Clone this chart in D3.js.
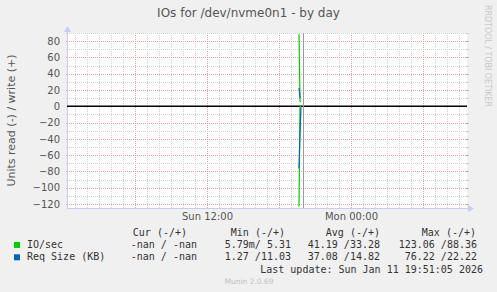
<!DOCTYPE html>
<html lang="en">
<head>
<meta charset="UTF-8"/>
<title>IOs for /dev/nvme0n1 - by day</title>
<script src="https://d3js.org/d3.v7.min.js"></script>
<style>
  body { margin: 0; background: #f0f0f0; }
  svg { display: block; font-family: "DejaVu Sans", sans-serif; }
  .mono { font-family: "DejaVu Sans Mono", monospace; font-size: 10px; fill: #333; white-space: pre; }
  .tick text { font-family: "DejaVu Sans", sans-serif; font-size: 10px; fill: #555; }
</style>
</head>
<body>
<svg id="chart" width="497" height="292"></svg>
<script>
// time range of the day graph (400 px at 5 min per px)
const timeStart = new Date(2026, 0, 11, 0, 20);
const timeEnd = new Date(2026, 0, 12, 9, 40);
const nowRule = "2026-01-11T20:00";

// samples (5 min steps)
const times = ["2026-01-11T19:40", "2026-01-11T19:45", "2026-01-11T19:50"];
const ioRead = [123.06, 0.51, 0.00579];
const ioWrite = [88.36, 6.17, 5.31];
const reqRead = [76.22, 33.75, 1.27];
const reqWrite = [22.22, 11.21, 11.03];

// axis
const yDomain = [-125, 90];
const yLabelTicks = [-120, -100, -80, -60, -40, -20, 0, 20, 40, 60, 80];

// legend
const legendNames = ["IO/sec", "Req Size (KB)"];
const legendColors = ["#00cc00", "#0066b3"];
const curVals = [[NaN, NaN], [NaN, NaN]];
const minVals = [[0.00579, 5.31], [1.27, 11.03]];
const avgVals = [[41.19, 33.28], [37.08, 14.82]];
const maxVals = [[123.06, 88.36], [76.22, 22.22]];
const lastUpdate = "Last update: Sun Jan 11 19:51:05 2026";

const parse = d3.timeParse("%Y-%m-%dT%H:%M");
const svg = d3.select("#chart");
const L = 67, R = 467, T = 33, B = 208;

const x = d3.scaleTime().domain([timeStart, timeEnd]).range([L, R]);
const y = d3.scaleLinear().domain(yDomain).range([B, T]);

svg.append("rect").attr("width", 497).attr("height", 292).attr("fill", "#f0f0f0");
svg.append("rect").attr("x", L).attr("y", T).attr("width", R - L).attr("height", B - T).attr("fill", "#fff");

// grid
const grid = svg.append("g").attr("shape-rendering", "crispEdges");
const minorCol = "#d2d2d2", majorCol = "#eaa0a0";
const hours = d3.timeHour.range(timeStart, timeEnd);
hours.forEach(h => {
  const major = h.getHours() % 6 === 0;
  grid.append("line")
    .attr("x1", Math.round(x(h)) + 0.5).attr("x2", Math.round(x(h)) + 0.5)
    .attr("y1", T).attr("y2", B)
    .attr("stroke", major ? majorCol : minorCol).attr("stroke-dasharray", "1,1");
});
d3.range(-120, 91, 10).forEach(v => {
  const major = v % 20 === 0;
  if (v === 0) return;
  const yy = Math.round(y(v)) + 0.5;
  grid.append("line").attr("x1", L).attr("x2", R + 1).attr("y1", yy).attr("y2", yy)
    .attr("stroke", major ? majorCol : minorCol).attr("stroke-dasharray", "1,1");
  grid.append("line").attr("x1", L - 1).attr("x2", L + 1).attr("y1", yy).attr("y2", yy)
    .attr("stroke", major ? majorCol : minorCol);
  grid.append("line").attr("x1", R - 1).attr("x2", R + 2).attr("y1", yy).attr("y2", yy)
    .attr("stroke", major ? majorCol : minorCol);
});

// axes labels
const yAxis = svg.append("g").attr("transform", `translate(${L},0)`)
  .call(d3.axisLeft(y).tickValues(yLabelTicks).tickSize(0).tickPadding(7));
yAxis.select(".domain").remove();

const xAxis = svg.append("g").attr("transform", `translate(0,${B})`)
  .call(d3.axisBottom(x).ticks(d3.timeHour.every(12)).tickFormat(d3.timeFormat("%a %H:%M")).tickSize(0).tickPadding(5));
xAxis.select(".domain").remove();

// axis lines + arrows
const axisCol = "#c8ccf2";
svg.append("line").attr("x1", L + 0.5).attr("x2", L + 0.5).attr("y1", 30).attr("y2", B + 1)
  .attr("stroke", axisCol).attr("shape-rendering", "crispEdges");
svg.append("line").attr("x1", L).attr("x2", R + 3).attr("y1", B + 0.5).attr("y2", B + 0.5)
  .attr("stroke", axisCol).attr("shape-rendering", "crispEdges");
svg.append("path").attr("d", `M${L - 3},${T - 1}L${L + 0.5},${T - 7}L${L + 4},${T - 1}Z`).attr("fill", axisCol);
svg.append("path").attr("d", `M${R + 1},${B - 3}L${R + 7},${B + 0.5}L${R + 1},${B + 4}Z`).attr("fill", axisCol);

// zero rule
svg.append("line").attr("x1", L).attr("x2", R).attr("y1", y(0)).attr("y2", y(0))
  .attr("stroke", "#000").attr("stroke-width", 1.4);

// now rule
svg.append("line").attr("x1", Math.round(x(parse(nowRule))) + 0.5).attr("x2", Math.round(x(parse(nowRule))) + 0.5)
  .attr("y1", T).attr("y2", B).attr("stroke", "#9a9a9a");

// series
const t = times.map(parse);
const line = d3.line().x(d => x(d[0])).y(d => y(d[1]));
const series = [
  [ioRead.map((v, i) => [t[i], -v]), legendColors[0]],
  [ioWrite.map((v, i) => [t[i], v]), legendColors[0]],
  [reqRead.map((v, i) => [t[i], -v]), legendColors[1]],
  [reqWrite.map((v, i) => [t[i], v]), legendColors[1]]
];
series.forEach(([pts, col]) => {
  svg.append("path").attr("d", line(pts)).attr("fill", "none").attr("stroke", col).attr("stroke-width", 1.2);
});

// title and side texts
svg.append("text").attr("x", 248.5).attr("y", 17).attr("text-anchor", "middle")
  .attr("font-size", 12).attr("fill", "#555").text("IOs for /dev/nvme0n1 - by day");
svg.append("text").attr("transform", `translate(15,${(T + B) / 2}) rotate(-90)`).attr("text-anchor", "middle")
  .attr("font-size", 11).attr("fill", "#555").text("Units read (-) / write (+)");
svg.append("text").attr("transform", "translate(485,5) rotate(90)")
  .attr("font-size", 8).attr("fill", "#c8c8c8").attr("textLength", 102).attr("lengthAdjust", "spacing")
  .text("RRDTOOL / TOBI OETIKER");
svg.append("text").attr("x", 249).attr("y", 284).attr("text-anchor", "middle")
  .attr("font-size", 7.5).attr("fill", "#c0c0c0").text("Munin 2.0.69");

// legend
function fmtR(v) {
  if (isNaN(v)) return "-nan ";
  return v < 1 ? (v * 1000).toFixed(2) + "m" : v.toFixed(2) + " ";
}
function fmtW(v) {
  if (isNaN(v)) return " -nan";
  return v.toFixed(2).padStart(5, " ");
}
const pair = p => fmtR(p[0]) + "/" + fmtW(p[1]);

const cols = [
  { head: "Cur (-/+)", hx: 187, vx: 197, vals: curVals },
  { head: "Min (-/+)", hx: 285, vx: 291, vals: minVals },
  { head: "Avg (-/+)", hx: 380, vx: 380, vals: avgVals },
  { head: "Max (-/+)", hx: 476, vx: 477, vals: maxVals }
];
const lg = svg.append("g");
cols.forEach(c => {
  lg.append("text").attr("class", "mono").attr("x", c.hx).attr("y", 236).attr("text-anchor", "end").text(c.head);
  c.vals.forEach((p, i) => {
    lg.append("text").attr("class", "mono").attr("x", c.vx).attr("y", 248 + i * 12.3)
      .attr("text-anchor", "end").text(pair(p));
  });
});
legendNames.forEach((n, i) => {
  lg.append("rect").attr("x", 14).attr("y", 242 + i * 12.3).attr("width", 6).attr("height", 6).attr("fill", legendColors[i]);
  lg.append("text").attr("class", "mono").attr("x", 27).attr("y", 248 + i * 12.3).text(n);
});
lg.append("text").attr("class", "mono").attr("x", 483).attr("y", 272.5).attr("text-anchor", "end").text(lastUpdate);
</script>
</body>
</html>
